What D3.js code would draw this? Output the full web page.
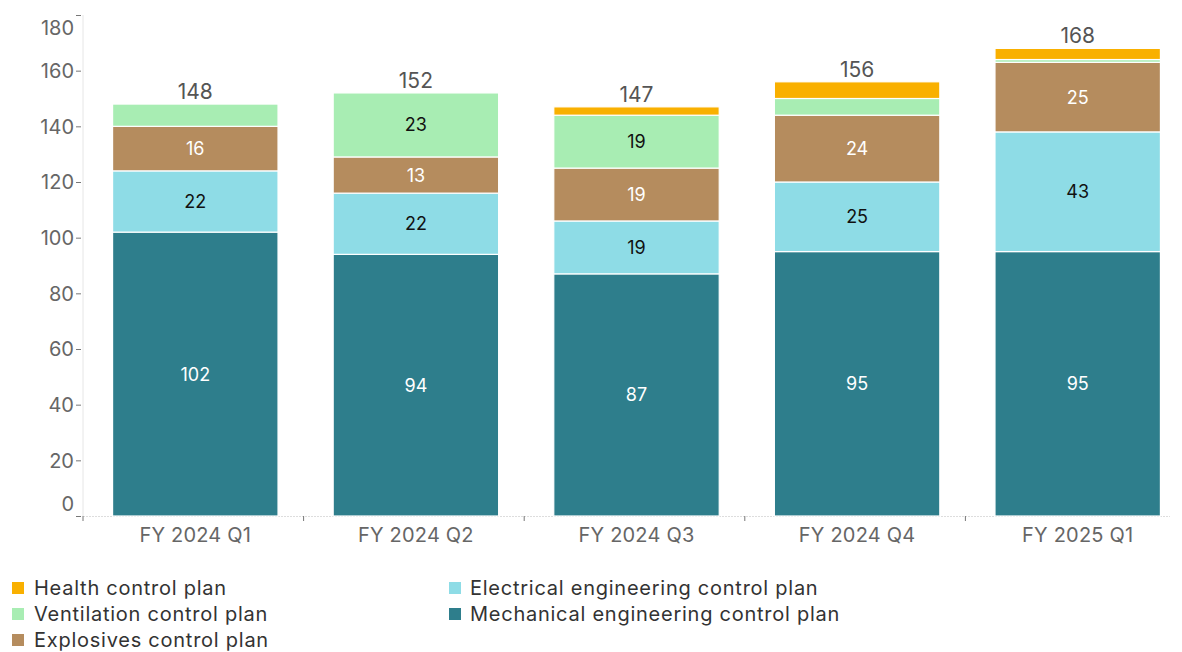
<!DOCTYPE html>
<meta charset="utf-8">
<style>
  body { margin: 0; background: #fff; }
  text { font-family: "Inter", "Roboto", sans-serif; }
  .tick line { stroke: #777; }
  .legend text { letter-spacing: 0.75px; }
</style>
<body>
<svg width="1182" height="652"></svg>
<script src="https://d3js.org/d3.v7.min.js"></script>
<script>

// data
var quarters = ["FY 2024 Q1", "FY 2024 Q2", "FY 2024 Q3", "FY 2024 Q4", "FY 2025 Q1"];
var seriesNames = ["Mechanical engineering control plan", "Electrical engineering control plan",
                   "Explosives control plan", "Ventilation control plan", "Health control plan"];
var mechanical = [102, 94, 87, 95, 95];
var electrical = [22, 22, 19, 25, 43];
var explosives = [16, 13, 19, 24, 25];
var ventilation = [8, 23, 19, 6, 1];
var health = [0, 0, 3, 6, 4];
var yTicks = [0, 20, 40, 60, 80, 100, 120, 140, 160, 180];

var colors = {
  "Health control plan": "#f9b000",
  "Ventilation control plan": "#a8edb3",
  "Explosives control plan": "#b58c5e",
  "Electrical engineering control plan": "#8edce6",
  "Mechanical engineering control plan": "#2e7e8c"
};
var labelColor = {
  "Health control plan": "#222",
  "Ventilation control plan": "#111",
  "Explosives control plan": "#fff",
  "Electrical engineering control plan": "#111",
  "Mechanical engineering control plan": "#fff"
};

var rows = quarters.map(function(q, i) {
  return {
    quarter: q,
    "Mechanical engineering control plan": mechanical[i],
    "Electrical engineering control plan": electrical[i],
    "Explosives control plan": explosives[i],
    "Ventilation control plan": ventilation[i],
    "Health control plan": health[i]
  };
});

const svg = d3.select("svg");
const plotL = 83, plotR = 1186, plotT = 15, plotB = 516;

var x = d3.scaleBand().domain(quarters).range([plotL + 2, plotR + 2]).paddingInner(0.25).paddingOuter(0.125);
var y = d3.scaleLinear().domain([0, 180]).range([plotB, plotT]);

var stack = d3.stack().keys(seriesNames)(rows);

// y axis line
svg.append("line")
  .attr("x1", plotL).attr("x2", plotL)
  .attr("y1", plotT).attr("y2", plotB)
  .attr("stroke", "#e6e6e6");

// baseline
svg.append("line")
  .attr("x1", plotL).attr("x2", 1170)
  .attr("y1", plotB + 0.5).attr("y2", plotB + 0.5)
  .attr("stroke", "#ddd")
  .attr("stroke-dasharray", "2,1");

var yAxis = svg.append("g")
  .attr("transform", "translate(" + (plotL - 2) + ",0)")
  .call(d3.axisLeft(y).tickValues(yTicks).tickSize(5).tickPadding(2));
yAxis.select(".domain").remove();
yAxis.selectAll("text")
  .attr("fill", "#666")
  .style("font-size", "20px")
  .attr("dy", function(d) { return d === 0 ? "-0.3em" : d === 180 ? "0.95em" : "0.34em"; });

// x ticks between categories
var bounds = quarters.map(function(q) { return x(q) - x.step() * x.paddingInner() / 2 - 2; });
svg.selectAll(".xtick")
  .data(bounds)
  .enter().append("line")
  .attr("class", "xtick")
  .attr("x1", d => d).attr("x2", d => d)
  .attr("y1", plotB).attr("y2", plotB + 5)
  .attr("stroke", "#777");

svg.selectAll(".xlabel")
  .data(quarters)
  .enter().append("text")
  .attr("class", "xlabel")
  .attr("x", d => x(d) + x.bandwidth() / 2)
  .attr("y", plotB + 26)
  .attr("text-anchor", "middle")
  .attr("fill", "#666")
  .style("font-size", "20px")
  .style("letter-spacing", "0.2px")
  .text(d => d);

// bars
var layer = svg.append("g").selectAll("g")
  .data(stack)
  .enter().append("g")
  .attr("fill", d => colors[d.key]);

layer.selectAll("rect")
  .data(d => d.map(function(p) { p.key = d.key; return p; }))
  .enter().append("rect")
  .attr("x", d => x(d.data.quarter))
  .attr("width", x.bandwidth())
  .attr("y", d => y(d[1]))
  .attr("height", d => Math.max(0, y(d[0]) - y(d[1])))
  .attr("stroke", "#fff")
  .attr("stroke-width", 1.2)
  .style("display", d => d[1] - d[0] > 0 ? null : "none");

// segment labels
layer.selectAll("text")
  .data(d => d.filter(p => p[1] - p[0] >= 10))
  .enter().append("text")
  .attr("x", d => x(d.data.quarter) + x.bandwidth() / 2)
  .attr("y", d => y((d[0] + d[1]) / 2))
  .attr("dy", "0.36em")
  .attr("text-anchor", "middle")
  .attr("fill", d => labelColor[d.key])
  .style("font-size", "18px")
  .text(d => d[1] - d[0]);

// totals
svg.selectAll(".total")
  .data(rows)
  .enter().append("text")
  .attr("class", "total")
  .attr("x", d => x(d.quarter) + x.bandwidth() / 2)
  .attr("y", function(d) {
    var t = d3.sum(seriesNames, k => d[k]);
    return y(t) - 5;
  })
  .attr("text-anchor", "middle")
  .attr("fill", "#555")
  .style("font-size", "21px")
  .text(d => d3.sum(seriesNames, k => d[k]));

// legend
var legendOrder = ["Health control plan", "Ventilation control plan", "Explosives control plan",
                   "Electrical engineering control plan", "Mechanical engineering control plan"];
var legend = svg.append("g").attr("class", "legend");
var item = legend.selectAll("g")
  .data(legendOrder)
  .enter().append("g")
  .attr("transform", function(d, i) {
    var col = i < 3 ? 0 : 1, row = i < 3 ? i : i - 3;
    return "translate(" + (col ? 449 : 12) + "," + (588 + row * 26) + ")";
  });
item.append("rect")
  .attr("x", 0).attr("y", -6)
  .attr("width", 12).attr("height", 12)
  .attr("fill", d => colors[d]);
item.append("text")
  .attr("x", function(d, i) { return i < 3 ? 22 : 21; })
  .attr("dy", "0.36em")
  .attr("fill", "#333")
  .style("font-size", "20px")
  .text(d => d);

</script>
</body>
